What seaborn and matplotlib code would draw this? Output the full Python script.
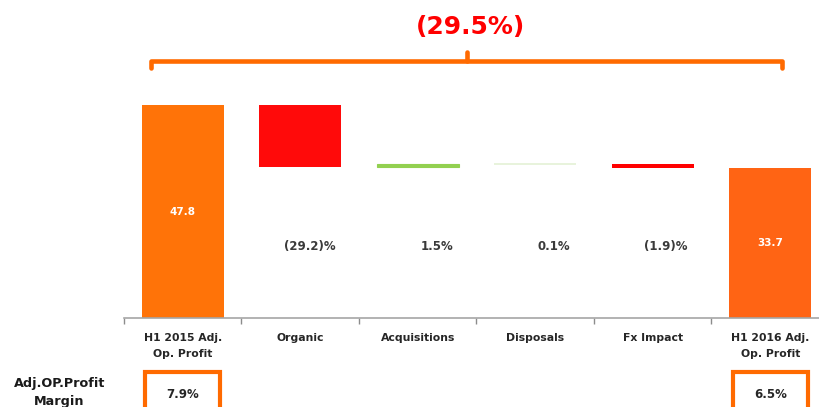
import matplotlib
matplotlib.use("Agg")
import matplotlib.pyplot as plt
import matplotlib.transforms as mtransforms
from matplotlib.patches import Rectangle
import seaborn as sns
import pandas as pd

# ---- data ----
categories = ["H1 2015 Adj.\nOp. Profit", "Organic", "Acquisitions", "Disposals",
              "Fx Impact", "H1 2016 Adj.\nOp. Profit"]
start_value = 47.8
changes = [-14.0, 0.7, 0.1, -0.9]
end_value = 33.7
change_labels = ["(29.2)%", "1.5%", "0.1%", "(1.9)%"]
total_change_label = "(29.5%)"
margin_title = "Adj.OP.Profit\nMargin"
margin_labels = ["7.9%", "6.5%"]
bar_colors = ["#FF7308", "#FF0A0A", "#92D050", "#E4F1D6", "#FF0000", "#FF6414"]

# waterfall geometry from the data
bottoms, heights = [0.0], [start_value]
level = start_value
for c in changes:
    new = level + c
    bottoms.append(min(level, new))
    heights.append(abs(c))
    level = new
bottoms.append(0.0)
heights.append(end_value)

df = pd.DataFrame({"category": categories, "height": heights})

sns.set_theme(style="white")
plt.rcParams["font.family"] = ["DejaVu Sans"]

fig = plt.figure(figsize=(8.2, 4.07), dpi=100)
ax = fig.add_axes([124 / 820, (407 - 318) / 407, 705 / 820, 318 / 407])

sns.barplot(data=df, x="category", y="height", hue="category",
            palette=dict(zip(categories, bar_colors)), legend=False,
            width=0.70, linewidth=0, saturation=1, ax=ax)
for p, b in zip(ax.patches, bottoms):
    p.set_y(b)
# make the tiny bars visible as thin lines
ax.patches[3].set_edgecolor(bar_colors[3])
ax.patches[3].set_linewidth(1.2)
ax.patches[2].set_edgecolor(bar_colors[2])
ax.patches[2].set_linewidth(0.8)

ax.set_xlim(-0.5, 5.5)
ax.set_ylim(0, 318 / 4.456)
ax.set_xlabel("")
ax.set_ylabel("")
ax.set_yticks([])
for s in ["left", "right", "top"]:
    ax.spines[s].set_visible(False)
ax.spines["bottom"].set_color("#A6A6A6")
ax.spines["bottom"].set_linewidth(1.2)

ax.set_xticks(range(len(categories)))
ax.set_xticklabels(categories, fontsize=7.8, fontweight="bold", color="#262626",
                   linespacing=1.75)
ax.set_xticks([i - 0.5 for i in range(len(categories) + 1)], minor=True)
ax.tick_params(axis="x", which="major", length=0, pad=11)
ax.tick_params(axis="x", which="minor", length=4, width=1, color="#8C8C8C",
               direction="out", bottom=True)

# values inside the total bars
for i, v in [(0, start_value), (5, end_value)]:
    ax.text(i, v / 2, f"{v}", ha="center", va="center", color="white",
            fontsize=7.5, fontweight="bold")

# percentage labels for the changes
for i, lab in enumerate(change_labels, start=1):
    ax.text(i + 0.30, 16.0, lab, ha="right", va="center", color="#3A3A3A",
            fontsize=8.5, fontweight="bold")

# top bracket
br = "#FF6A00"
xl, xr, xc = -0.27, 5.10, 2.42
yh, ye, yt = 57.7, 56.0, 59.6
ax.plot([xl, xl, xr, xr], [ye, yh, yh, ye], color=br, lw=3.3,
        solid_joinstyle="round", solid_capstyle="round", clip_on=False)
ax.plot([xc, xc], [yh, yt], color=br, lw=3.3, solid_capstyle="round", clip_on=False)
ax.text(2.45, 65.2, total_change_label, ha="center", va="center", color="#FF0000",
        fontsize=18, fontweight="bold", clip_on=False)

# margin row
fig.text(59.5 / 820, (407 - 393) / 407, margin_title, ha="center", va="center",
         fontsize=9.2, fontweight="bold", color="#1A1A1A", linespacing=1.5)
trans = mtransforms.blended_transform_factory(ax.transData, fig.transFigure)
for i, lab in [(0, margin_labels[0]), (5, margin_labels[1])]:
    w = 0.64
    rect = Rectangle((i - w / 2, -0.1), w, 0.1 + (407 - 372) / 407, transform=trans,
                     fill=False, edgecolor=br, linewidth=3.0, clip_on=False)
    fig.add_artist(rect)
    t = fig.text(0, (407 - 394) / 407, lab, ha="center", va="center",
                 fontsize=8.5, fontweight="bold", color="#262626")
    t.set_transform(trans)
    t.set_x(i)

fig.savefig("out.png", dpi=100)
